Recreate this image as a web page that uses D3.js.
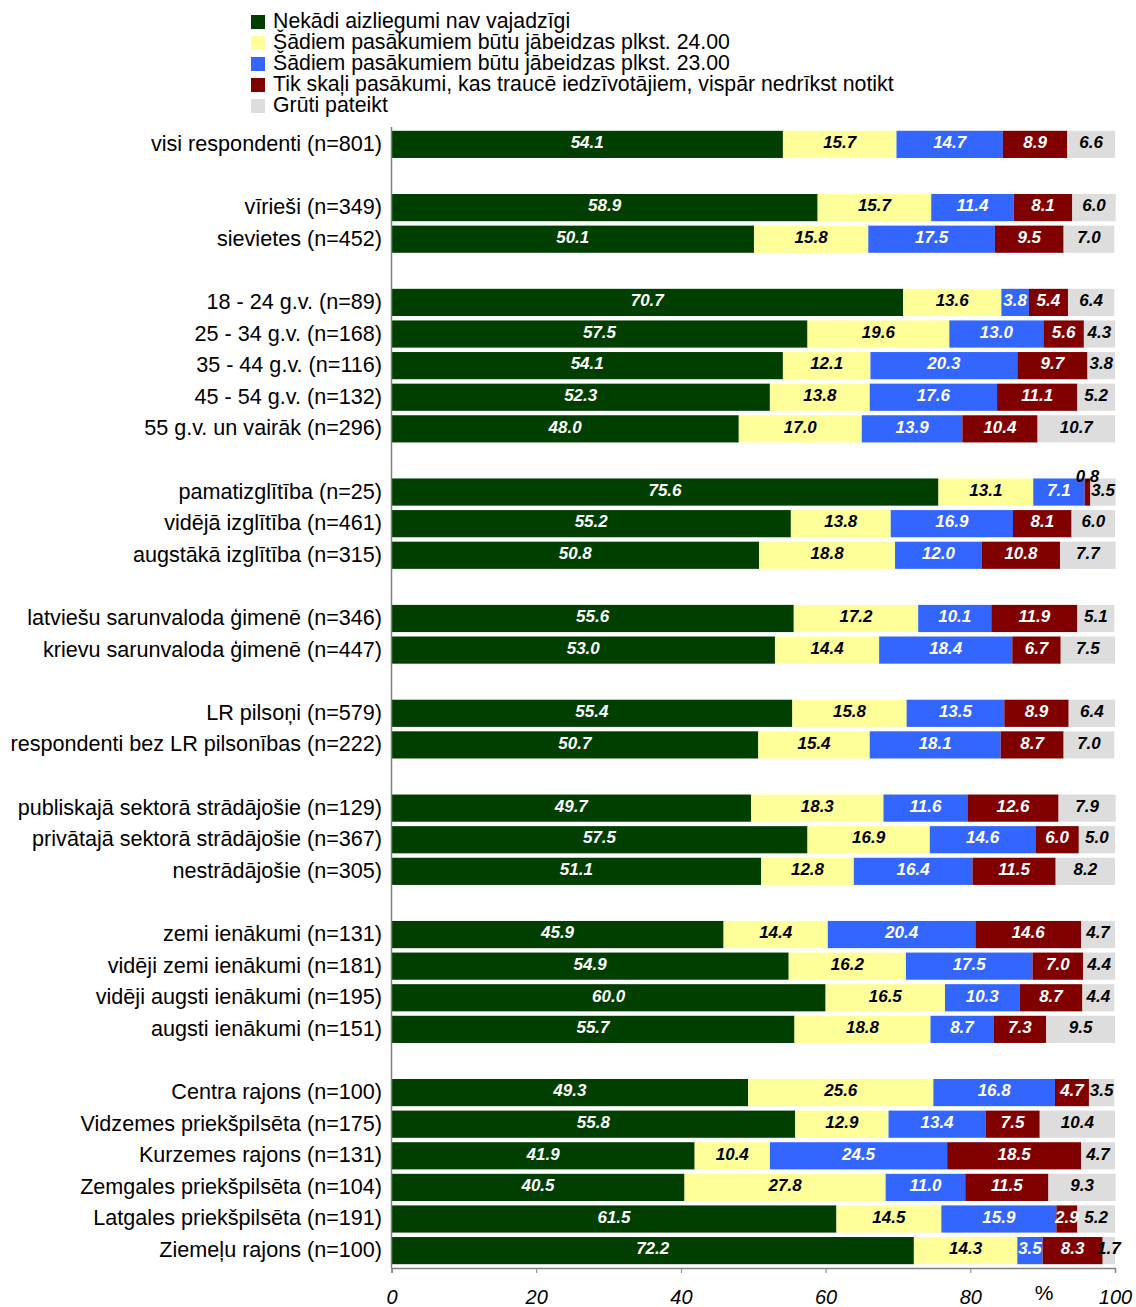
<!DOCTYPE html>
<html><head><meta charset="utf-8">
<script src="https://cdn.jsdelivr.net/npm/d3@7"></script>
<style>
html,body{margin:0;padding:0;background:#fff;}
svg{display:block;font-family:"Liberation Sans",Arial,sans-serif;}
</style></head>
<body>
<svg id="chart" width="1136" height="1307"></svg>
<script>
const seriesNames = [
  "Nekādi aizliegumi nav vajadzīgi",
  "Šādiem pasākumiem būtu jābeidzas plkst. 24.00",
  "Šādiem pasākumiem būtu jābeidzas plkst. 23.00",
  "Tik skaļi pasākumi, kas traucē iedzīvotājiem, vispār nedrīkst notikt",
  "Grūti pateikt"
];
const seriesColors = ["#003f00", "#ffff99", "#3366ff", "#800000", "#dddddd"];
const labelColors = ["#ffffff", "#000000", "#ffffff", "#ffffff", "#000000"];

const categories = [
  "visi respondenti (n=801)",
  "vīrieši (n=349)", "sievietes (n=452)",
  "18 - 24 g.v. (n=89)", "25 - 34 g.v. (n=168)", "35 - 44 g.v. (n=116)", "45 - 54 g.v. (n=132)", "55 g.v. un vairāk (n=296)",
  "pamatizglītība (n=25)", "vidējā izglītība (n=461)", "augstākā izglītība (n=315)",
  "latviešu sarunvaloda ģimenē (n=346)", "krievu sarunvaloda ģimenē (n=447)",
  "LR pilsoņi (n=579)", "respondenti bez LR pilsonības (n=222)",
  "publiskajā sektorā strādājošie (n=129)", "privātajā sektorā strādājošie (n=367)", "nestrādājošie (n=305)",
  "zemi ienākumi (n=131)", "vidēji zemi ienākumi (n=181)", "vidēji augsti ienākumi (n=195)", "augsti ienākumi (n=151)",
  "Centra rajons (n=100)", "Vidzemes priekšpilsēta (n=175)", "Kurzemes rajons (n=131)", "Zemgales priekšpilsēta (n=104)", "Latgales priekšpilsēta (n=191)", "Ziemeļu rajons (n=100)"
];
const groupSizes = [1, 2, 5, 3, 2, 2, 3, 4, 6];

const nekadi   = [54.1, 58.9, 50.1, 70.7, 57.5, 54.1, 52.3, 48.0, 75.6, 55.2, 50.8, 55.6, 53.0, 55.4, 50.7, 49.7, 57.5, 51.1, 45.9, 54.9, 60.0, 55.7, 49.3, 55.8, 41.9, 40.5, 61.5, 72.2];
const plkst24  = [15.7, 15.7, 15.8, 13.6, 19.6, 12.1, 13.8, 17.0, 13.1, 13.8, 18.8, 17.2, 14.4, 15.8, 15.4, 18.3, 16.9, 12.8, 14.4, 16.2, 16.5, 18.8, 25.6, 12.9, 10.4, 27.8, 14.5, 14.3];
const plkst23  = [14.7, 11.4, 17.5, 3.8, 13.0, 20.3, 17.6, 13.9, 7.1, 16.9, 12.0, 10.1, 18.4, 13.5, 18.1, 11.6, 14.6, 16.4, 20.4, 17.5, 10.3, 8.7, 16.8, 13.4, 24.5, 11.0, 15.9, 3.5];
const nedrikst = [8.9, 8.1, 9.5, 5.4, 5.6, 9.7, 11.1, 10.4, 0.8, 8.1, 10.8, 11.9, 6.7, 8.9, 8.7, 12.6, 6.0, 11.5, 14.6, 7.0, 8.7, 7.3, 4.7, 7.5, 18.5, 11.5, 2.9, 8.3];
const grutiPateikt = [6.6, 6.0, 7.0, 6.4, 4.3, 3.8, 5.2, 10.7, 3.5, 6.0, 7.7, 5.1, 7.5, 6.4, 7.0, 7.9, 5.0, 8.2, 4.7, 4.4, 4.4, 9.5, 3.5, 10.4, 4.7, 9.3, 5.2, 1.7];
const xTicks = [0, 20, 40, 60, 80, 100];

const seriesValues = [nekadi, plkst24, plkst23, nedrikst, grutiPateikt];

// build slot domain with gaps between groups
const slots = [];
const slotOf = [];
let ci = 0;
groupSizes.forEach((g, gi) => {
  if (gi > 0) slots.push("gap" + gi);
  for (let k = 0; k < g; k++) { slotOf.push(slots.length); slots.push("c" + ci); ci++; }
});

const svg = d3.select("#chart");
const x = d3.scaleLinear().domain([0, 100]).range([391.5, 1115]);
const y = d3.scaleBand().domain(slots).range([127, 1268]).paddingInner(0.14).paddingOuter(0.12);

const rows = categories.map((c, i) => {
  let acc = 0;
  const segs = seriesValues.map((arr, s) => {
    const v = arr[i]; const seg = {s, v, x0: acc, x1: acc + v}; acc += v; return seg;
  });
  return {name: c, slot: slots[slotOf[i]], segs};
});

const g = svg.append("g");
const rowG = g.selectAll("g.row").data(rows).join("g").attr("class", "row")
  .attr("transform", d => `translate(0,${y(d.slot)})`);

rowG.selectAll("rect").data(d => d.segs).join("rect")
  .attr("x", d => x(d.x0))
  .attr("width", d => x(d.x1) - x(d.x0))
  .attr("y", 0)
  .attr("height", y.bandwidth())
  .attr("fill", d => seriesColors[d.s]);

rowG.selectAll("text.val").data(d => d.segs).join("text").attr("class", "val")
  .attr("x", d => (x(d.x0) + x(d.x1)) / 2)
  .attr("y", d => y.bandwidth() / 2 + (d.v < 1 ? -14 : 0))
  .attr("dy", "0.22em")
  .attr("text-anchor", "middle")
  .attr("font-size", 17)
  .attr("font-weight", "bold")
  .attr("font-style", "italic")
  .attr("fill", d => d.v < 1 ? "#000" : labelColors[d.s])
  .text(d => d.v.toFixed(1));

// category labels
g.selectAll("text.cat").data(rows).join("text").attr("class", "cat")
  .attr("x", 382)
  .attr("y", d => y(d.slot) + y.bandwidth() / 2)
  .attr("dy", "0.3em")
  .attr("text-anchor", "end")
  .attr("font-size", 21.6)
  .attr("fill", "#000")
  .text(d => d.name);

// y axis line
svg.append("line").attr("x1", 391.5).attr("x2", 391.5).attr("y1", 127).attr("y2", 1268)
  .attr("stroke", "#808080").attr("stroke-width", 1.5);

// x axis
const xAxis = d3.axisBottom(x).tickValues(xTicks).tickSize(5).tickFormat(d3.format("d"));
const ax = svg.append("g").attr("transform", "translate(0,1268)").call(xAxis);
ax.select(".domain").attr("stroke", "#808080").attr("stroke-width", 1.5);
ax.selectAll(".tick line").attr("stroke", "#808080");
ax.selectAll(".tick text")
  .attr("font-size", 20).attr("font-style", "italic")
  .attr("font-family", "Liberation Sans, Arial, sans-serif")
  .attr("fill", "#000").attr("y", 0).attr("dy", "36");
svg.append("text").attr("x", 1044).attr("y", 1300).attr("text-anchor", "middle")
  .attr("font-size", 21).attr("fill", "#000").text("%");

// legend
const leg = svg.append("g");
const li = leg.selectAll("g").data(seriesNames).join("g")
  .attr("transform", (d, i) => `translate(251,${15 + i * 21})`);
li.append("rect").attr("width", 14).attr("height", 14).attr("fill", (d, i) => seriesColors[i]);
li.append("text").attr("x", 22).attr("y", 13).attr("font-size", 21.3).attr("fill", "#000").text(d => d);
</script>
</body></html>
